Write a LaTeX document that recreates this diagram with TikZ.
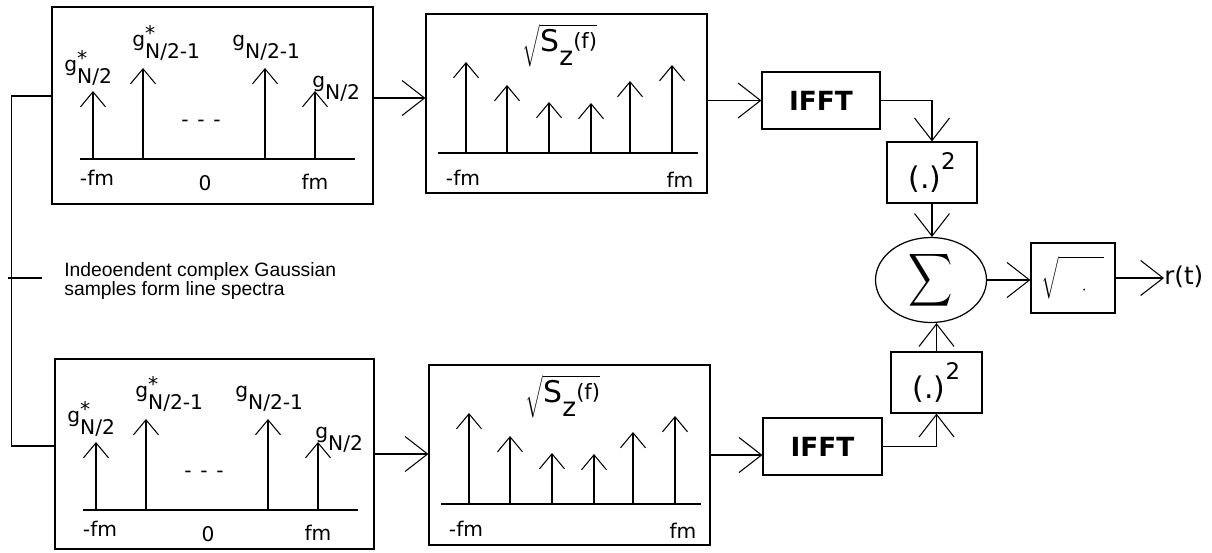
\documentclass[tikz,border=0pt]{standalone}
\usepackage{fontspec}
\usepackage{graphicx}
\setmainfont{Liberation Sans}
\newfontfamily\dejavu{DejaVu Sans}
\usetikzlibrary{arrows.meta,positioning,shapes.geometric,calc}
\newcommand{\gsym}[2]{g\rlap{\raisebox{0.28em}{#1}}\raisebox{-0.6em}{#2}}
\tikzset{
  blk/.style  ={draw, line width=0.7pt, inner sep=0pt},
  conn/.style ={-{Straight Barb[length=4.5mm, width=7mm]}, line width=0.6pt},
  stem/.style ={-{Straight Barb[length=3mm, width=5mm]}, line width=0.6pt},
  axis/.style ={line width=0.6pt},
  lbl/.style  ={font=\dejavu\fontsize{11.5}{13}\selectfont, inner sep=0pt},
}

\begin{document}
\begin{tikzpicture}[x=0.02cm, y=-0.02cm]
  \useasboundingbox (0,0) rectangle (1212,552);
  % line spectra and shaping filters
  \node[blk, minimum width=6.42cm, minimum height=3.94cm] (gT) at (212.5,105.5) {};
  \node[blk, minimum width=6.38cm, minimum height=3.8cm] (gB) at (214.5,454) {};
  \node[blk, minimum width=5.62cm, minimum height=3.58cm] (sT) at (566.5,103.5) {};
  \node[blk, minimum width=5.62cm, minimum height=3.6cm] (sB) at (569.5,455) {};
  \foreach \row/\dx/\dy in {T/0/0, B/3/351} {
    \begin{scope}[shift={(\dx,\dy)}]
      \draw[axis] (80,159) -- (355,159);
      \foreach \x/\t in {93/91, 143/68, 265/68, 315/91}
        \draw[stem] (\x,159) -- (\x,\t);
      \node[lbl, anchor=base west] (ga\row) at (64,71) {\gsym{*}{N/2}};
      \node[lbl, anchor=base west] (gb\row) at (132,46) {\gsym{*}{N/2-1}};
      \node[lbl, anchor=base west] (gc\row) at (232,46) {\gsym{}{N/2-1}};
      \node[lbl, anchor=base west] (gd\row) at (312,87) {\gsym{}{N/2}};
      \node[lbl] (dots\row) at (201,123) {-\hspace{5pt}-\hspace{5pt}-};
      \node[lbl] (fa\row) at (97,178) {-fm};
      \node[lbl] (fb\row) at (205,183) {0};
      \node[lbl] (fc\row) at (315,182) {fm};
      \draw[axis] (438,153) -- (698,153);
      \foreach \x/\t in {466/62, 507/85, 549/102, 591/103, 630/81, 672/65}
        \draw[stem] (\x,153) -- (\x,\t);
      \node[lbl] (psd\row) at (560,46)
        {$\sqrt{\mbox{\fontsize{17}{20}\selectfont S\raisebox{-8pt}{\fontsize{15}{18}\selectfont z}\raisebox{1.5pt}{\fontsize{12}{14}\selectfont(f)}}}$};
      \node[lbl] (fd\row) at (463,178) {-fm};
      \node[lbl] (fe\row) at (680,180) {fm};
    \end{scope}
  }
  % processing chain
  \node[blk, minimum width=2.36cm, minimum height=1.14cm, font=\dejavu\bfseries\fontsize{15}{18}\selectfont] (ifftT) at (821,100.5) {IFFT};
  \node[blk, minimum width=2.38cm, minimum height=1.14cm, font=\dejavu\bfseries\fontsize{15}{18}\selectfont] (ifftB) at (822.5,446.5) {IFFT};
  \node[blk, minimum width=1.8cm, minimum height=1.22cm, font=\dejavu] (sqT) at (932,172.5)
    {{\fontsize{17}{20}\selectfont(.)}\raisebox{11pt}{\fontsize{13}{15}\selectfont 2}};
  \node[blk, minimum width=1.82cm, minimum height=1.22cm, font=\dejavu] (sqB) at (936.5,382.5)
    {{\fontsize{17}{20}\selectfont(.)}\raisebox{11pt}{\fontsize{13}{15}\selectfont 2}};
  \node[blk, ellipse, minimum width=2.22cm, minimum height=1.7cm] (sum) at (931,280)
    {\scalebox{1.75}[2.1]{$\displaystyle\sum$}};
  \node[blk, minimum width=1.68cm, minimum height=1.4cm] (root) at (1073,278)
    {$\sqrt{\rule[-2pt]{0pt}{22pt}\hspace{13pt}\cdot\hspace{10pt}}$};
  \node[anchor=west, inner sep=0pt, font=\dejavu\fontsize{14}{16}\selectfont] (rt) at (1164,277) {r(t)};
  \node[anchor=west, inner sep=0pt, align=left, font=\fontsize{11}{10.5}\selectfont] (note) at (64,281)
    {Indeoendent complex Gaussian\\samples form line spectra};
  % connectors
  \draw[axis] ([yshift=0.19cm]gT.west) -- ++(-40,0) |- ([yshift=0.16cm]gB.west);
  \draw[axis] ([xshift=-0.44cm, yshift=0.06cm]note.west) -- ++(-34,0);
  \draw[conn] ([yshift=0.15cm]gT.east) -- ([yshift=0.15cm]gT.east -| sT.west);
  \draw[conn] (gB.east) -- (gB.east -| sB.west);
  \draw[conn] (sT.east |- ifftT.west) -- (ifftT.west);
  \draw[conn] (sB.east) -- (sB.east -| ifftB.west);
  \draw[conn] (ifftT.east) -| (sqT.north);
  \draw[conn] (ifftB.east) -| (sqB.south);
  \draw[conn] (sqT.south) -- (sqT.south |- sum.north);
  \draw[conn] (sqB.north) -- (sqB.north |- sum.south);
  \draw[conn] (sum.east) -- (sum.east -| root.west);
  \draw[conn] (root.east) -- (root.east -| rt.west);
\end{tikzpicture}
\end{document}
